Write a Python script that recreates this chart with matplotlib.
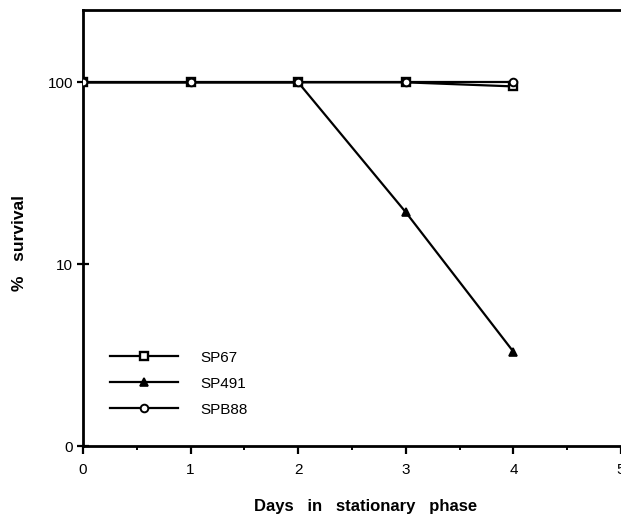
import matplotlib
matplotlib.use("Agg")
import matplotlib.pyplot as plt
from matplotlib.ticker import FixedLocator, NullLocator, MultipleLocator

plt.rcParams['font.family'] = ['Liberation Sans', 'DejaVu Sans']

days = [0, 1, 2, 3, 4]
sp67 = [100, 100, 100, 100, 95]
sp491 = [100, 100, 100, 19.3, 3.3]
spb88 = [100, 100, 100, 100, 100]
y_ticks = [1, 10, 100]
y_ticklabels = ["0", "10", "100"]
x_ticks = [0, 1, 2, 3, 4, 5]

fig = plt.figure(figsize=(6.21, 5.16), dpi=100)
ax = fig.add_axes([83/621, 70/516, 1 - 83/621, (446-10)/516])

lw = 1.6
ax.plot(days, sp67, color='black', lw=lw, marker='s', ms=5.8, mfc='white', mec='black', mew=1.7, label='SP67', zorder=3)
ax.plot(days, sp491, color='black', lw=lw, marker='^', ms=6, mfc='black', mec='black', mew=1.2, label='SP491', zorder=3)
ax.plot(days, spb88, color='black', lw=lw, marker='o', ms=5.5, mfc='white', mec='black', mew=1.4, label='SPB88', zorder=4)

ax.set_yscale('log')
ax.set_ylim(1, 250)
ax.set_xlim(0, 5)
ax.yaxis.set_major_locator(FixedLocator(y_ticks))
ax.set_yticklabels(y_ticklabels)
ax.yaxis.set_minor_locator(NullLocator())
ax.xaxis.set_major_locator(FixedLocator(x_ticks))
ax.xaxis.set_minor_locator(MultipleLocator(0.5))

for s in ['left', 'bottom', 'top']:
    ax.spines[s].set_linewidth(2)
ax.spines['right'].set_visible(False)

ax.tick_params(axis='y', which='major', direction='inout', length=8, width=1.6, labelsize=11, pad=3)
ax.tick_params(axis='x', which='major', direction='out', length=6, width=1.6, labelsize=11, pad=6)
ax.tick_params(axis='x', which='minor', direction='out', length=3, width=1.4)

ax.set_xlabel('Days   in   stationary   phase', fontsize=12, fontweight='bold')
ax.set_ylabel('%   survival', fontsize=12.5, fontweight='bold')
ax.xaxis.set_label_coords((366-83)/538, -0.122)
ax.yaxis.set_label_coords((27-83)/538, (446-243)/436)

leg = ax.legend(loc='upper left', bbox_to_anchor=(0.024, 0.25), frameon=False,
                fontsize=11, handlelength=4.5, handletextpad=1.44, labelspacing=0.78)

fig.savefig('out.png', dpi=100)
